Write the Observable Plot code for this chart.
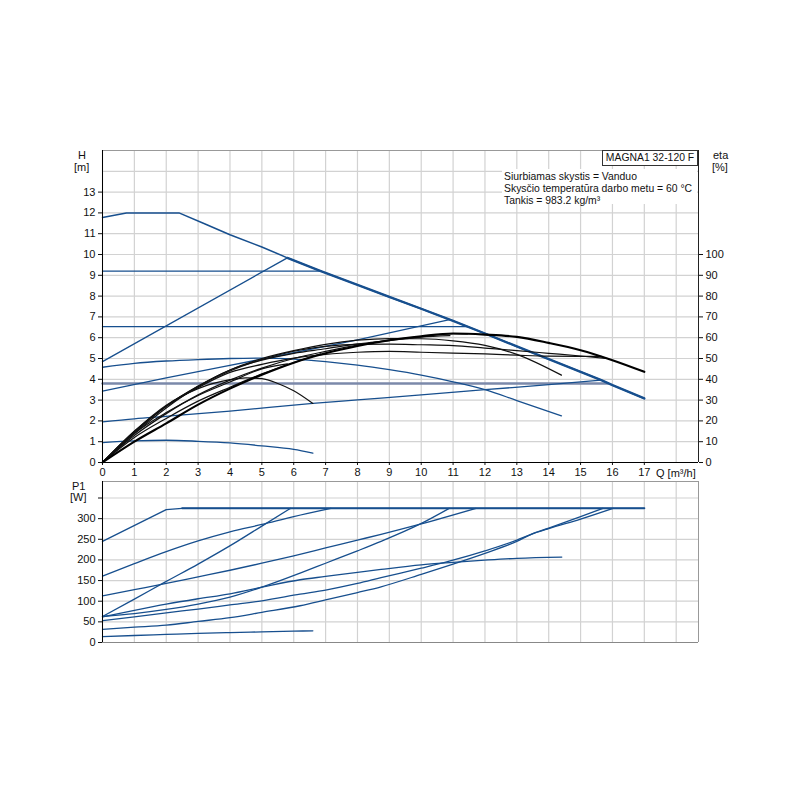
<!DOCTYPE html>
<html><head><meta charset="utf-8">
<script src="https://cdn.jsdelivr.net/npm/d3@7"></script>
<script src="https://cdn.jsdelivr.net/npm/@observablehq/plot@0.6"></script>
<style>
body{margin:0;background:#fff;font-family:"Liberation Sans",Arial,sans-serif;}
#wrap{position:relative;width:800px;height:800px;overflow:hidden;}
#wrap svg{position:absolute;left:0;}
.lbl{position:absolute;font-size:11px;color:#111;line-height:12px;white-space:nowrap;}
.sm{font-size:10.4px;}
</style></head><body><div id="wrap"></div>
<script>
// ---------- tick labels ----------
const qTicks = [0,1,2,3,4,5,6,7,8,9,10,11,12,13,14,15,16,17];
const qGrid = [0,1,2,3,4,5,6,7,8,9,10,11,12,13,14,15,16,17,18];
const hTicks = [0,1,2,3,4,5,6,7,8,9,10,11,12,13];
const hGrid = [0,1,2,3,4,5,6,7,8,9,10,11,12,13,14];
const etaTicks = [0,10,20,30,40,50,60,70,80,90,100];
const pTicks = [0,50,100,150,200,250,300,350];
const pLabelMax = 300;

// ---------- H curves (m) ----------
const maxQ = [0,0.75,2.4,3.2,4,5,5.8,6.85,8,9,10,11,12,13,14,15,15.65,16,17];
const maxH = [11.78,12,12,11.48,10.95,10.36,9.84,9.2,8.54,7.96,7.39,6.81,6.2,5.58,4.97,4.36,3.96,3.72,3.08];
const c92Q = [0,6.85], c92H = [9.2,9.2];
const c65Q = [0,11.45], c65H = [6.53,6.53];
const c38Q = [0,15.86], c38H = [3.8,3.8];
const pAQ = [0,5.8], pAH = [4.85,9.84];
const pBQ = [0,2,5,8,10.9], pBH = [3.43,4.07,4.97,5.9,6.87];
const pCQ = [0,1,2,4,6.6,8,10,12,14,15.65], pCH = [1.95,2.1,2.22,2.47,2.84,3.01,3.25,3.5,3.74,3.96];
const c46Q = [0,1,2,3,4,5,6,7,8,9,10,11,12,13,14.4];
const c46H = [4.58,4.77,4.88,4.95,5.0,5.02,4.97,4.85,4.68,4.46,4.2,3.88,3.5,2.98,2.24];
const c10Q = [0,1,2,3,4,5,6,6.6];
const c10H = [0.96,1.04,1.07,1.02,0.94,0.8,0.63,0.45];

// ---------- eta curves (%) ----------
const eMaxQ = [0,1,2,3,4,5,6,7,8,9,10,11,12,13,14,15,16,17];
const eMax  = [0,10,18.8,27.8,35.5,42.2,48,52.5,56,58.8,60.7,62,61.5,60.4,57.5,54,49.2,43.6];
const e92Q = [0,1,2,3,4,5,6,6.85];
const e92  = [0,12,21.2,29.5,36.2,42.6,48,52.2];
const eAQ = [0,1,2,3,4,5,5.8];
const eA  = [0,14,24,32.2,38.7,45,47.4];
const e65Q = [0,1,2,3,4,5,6,7,8,9,10,11,11.45];
const e65  = [0,13,23.5,32.5,39.6,45.4,50,53.4,56.4,58.9,60.5,62,61.8];
const eBQ = [0,1,2,3,4,5,6,7,8,9,10,10.9];
const eB  = [0,13.8,26.2,36.5,44.5,49.2,52.5,54.7,57,58.6,60.3,61];
const e46Q = [0,1,2,3,4,5,6,7,8,9,10,11,12,13,14.4];
const e46  = [0,15,27.2,36.8,44.5,50,53.8,56.8,58.8,59.6,59.5,58.5,56.3,52,42];
const e38Q = [0,1,2,3,4,5,6,7,8,9,10,11,12,13,14,15,15.86];
const e38  = [0,14.8,27,36.6,44,49.5,53.5,55.8,56.8,56.9,56.6,56.2,55,53.8,52.5,51.2,50];
const eCQ = [0,1,2,3,4,5,6,7,8,9,10,11,12,13,14,15,15.65];
const eC  = [0,14.2,27,36,43.3,47.2,50.2,52,53,53.4,53,52.6,52.2,51.6,51.1,51,51];
const e10Q = [0,1,2,3,4,4.5,5,5.5,6,6.6];
const e10  = [0,15,27.5,35.5,39.8,40.7,40.3,38,34.5,28.4];

// ---------- P1 curves (W) ----------
const pMaxQ = [0,2,2.5,17], pMax = [245,322,325,325];
const p92Q = [0,1,2,3,4,5,6,7.17], p92 = [161,191,220,246,268,286,305,325];
const pAQq = [0,1,2,3,4.23,5,5.9], pAP = [63,105,148,190,245,282,325];
const p65Q = [0,1,2,3,4,5,6,7,8,8.74,9.94,11.72];
const p65  = [113,128,143,159,175,192,210,229,248,262,286,325];
const pBQq = [0,1,2,3,4,5,6.2,7,8,8.74,9.94,10.88];
const pBP  = [63,70,80,93,110,134,168,192,222,245,286,325];
const p46Q = [0,1,2,3,4,5,6.2,7,8,8.74,10,11,12.1,13,14.41];
const p46  = [62,78,93,106,118,134,152,160,170,177,188,194,200,204,207];
const p38Q = [0,1,2,3,4,5,6.2,7,8,8.74,10,10.88,12,13,13.45,14,15,16.02];
const p38  = [53,62,72,81,91,101,117,127,143,157,180,197,222,248,262,276,299,325];
const pCQq = [0,1,2,3,4,5,6.2,7,8,8.74,10,11,12,13,13.45,14,15,15.7];
const pCP  = [32,37,42,51,60,73,89,103,121,135,165,190,216,245,262,277,305,325];
const p10Q = [0,1,2,3,4,5,6,6.6], p10 = [14,17,19.5,22,24,25.8,27.4,28.3];

// ---------- helpers ----------
const BLUE = "#174f8e";
const pts = (id, qs, vs) => qs.map((q,i)=>({id, q, v: vs[i]}));
const font = {fontFamily:'"Liberation Sans", Arial, sans-serif', fontSize:"11px", background:"transparent", color:"#111"};
const XD = [0,18.7];

const blueSeries = [
  pts("c92",c92Q,c92H), pts("c65",c65Q,c65H), pts("pA",pAQ,pAH),
  pts("pB",pBQ,pBH), pts("pC",pCQ,pCH), pts("c46",c46Q,c46H), pts("c10",c10Q,c10H)
].flat();
const maxData = pts("max",maxQ,maxH);
const etaThin = [
  pts("e92",e92Q,e92), pts("eA",eAQ,eA), pts("e65",e65Q,e65), pts("eB",eBQ,eB),
  pts("e46",e46Q,e46), pts("e38",e38Q,e38), pts("eC",eCQ,eC), pts("e10",e10Q,e10)
].flat().map(d=>({...d, v:d.v/10}));
const etaMaxData = pts("emax",eMaxQ,eMax).map(d=>({...d, v:d.v/10}));

const topChart = Plot.plot({
  width:800, height:478,
  marginLeft:102, marginRight:102, marginTop:150, marginBottom:16,
  style: font,
  x:{domain:XD}, y:{domain:[0,15]},
  marks:[
    Plot.gridX(qGrid,{stroke:"#d2d2d2", strokeOpacity:1, strokeWidth:1.2}),
    Plot.gridY(hGrid,{stroke:"#d2d2d2", strokeOpacity:1, strokeWidth:1.2}),
    Plot.ruleY([15],{stroke:"#999"}),
    Plot.ruleX([XD[1]],{stroke:"#222"}),
    Plot.axisY(hTicks,{anchor:"left", tickSize:4, tickPadding:3, label:null}),
    Plot.axisY(etaTicks.map(v=>v/10),{anchor:"right", tickSize:4, tickPadding:3, label:null, tickFormat:d=>String(Math.round(d*10))}),
    Plot.axisX(qTicks,{anchor:"bottom", tickSize:3, tickPadding:3, label:null}),
    Plot.line(pts("c38",c38Q,c38H),{x:"q",y:"v",stroke:"#7b89aa",strokeWidth:2.4}),
    Plot.line(blueSeries,{x:"q",y:"v",z:"id",stroke:BLUE,strokeWidth:1.3,curve:"monotone-x"}),
    Plot.line(maxData,{x:"q",y:"v",stroke:BLUE,strokeWidth:1.5}),
    Plot.line(maxData.filter(d=>d.q>=5.8),{x:"q",y:"v",stroke:BLUE,strokeWidth:2.3}),
    Plot.line(etaThin,{x:"q",y:"v",z:"id",stroke:"#111",strokeWidth:1.2,curve:"monotone-x"}),
    Plot.line(etaMaxData,{x:"q",y:"v",stroke:"#000",strokeWidth:2.1,curve:"monotone-x"}),
    Plot.ruleX([0],{stroke:"#000"}),
    Plot.ruleY([0],{stroke:"#000"})
  ]
});
topChart.style.top = "0px";

const pSeries = [
  pts("p92",p92Q,p92), pts("pA",pAQq,pAP), pts("p65",p65Q,p65), pts("pB",pBQq,pBP),
  pts("p46",p46Q,p46), pts("p38",p38Q,p38), pts("pC",pCQq,pCP), pts("p10",p10Q,p10)
].flat();

const bottomChart = Plot.plot({
  width:800, height:180,
  marginLeft:102, marginRight:102, marginTop:11, marginBottom:8,
  style: font,
  x:{domain:XD, axis:null}, y:{domain:[0,390]},
  marks:[
    Plot.gridX(qGrid,{stroke:"#d2d2d2", strokeOpacity:1, strokeWidth:1.2}),
    Plot.gridY(pTicks,{stroke:"#d2d2d2", strokeOpacity:1, strokeWidth:1.2}),
    Plot.ruleY([390],{stroke:"#999"}),
    Plot.ruleX([XD[1]],{stroke:"#999"}),
    Plot.ruleY([0],{stroke:"#888"}),
    Plot.axisY(pTicks,{anchor:"left", tickSize:4, tickPadding:3, label:null, tickFormat:d=> d<=pLabelMax ? String(d) : ""}),
    Plot.line(pSeries,{x:"q",y:"v",z:"id",stroke:BLUE,strokeWidth:1.3,curve:"monotone-x"}),
    Plot.line(pts("pmax",pMaxQ,pMax),{x:"q",y:"v",stroke:BLUE,strokeWidth:1.3}),
    Plot.line(pts("pmax",pMaxQ,pMax).slice(2),{x:"q",y:"v",stroke:BLUE,strokeWidth:2}),
    Plot.ruleX([0],{stroke:"#000"})
  ]
});
bottomChart.style.top = "470px";

const wrap = document.getElementById("wrap");
wrap.appendChild(topChart);
wrap.appendChild(bottomChart);

function lbl(text, left, topPx, extra, cls){
  const d = document.createElement("div");
  d.className = "lbl" + (cls ? " "+cls : "");
  d.textContent = text;
  d.style.left = left+"px"; d.style.top = topPx+"px";
  if (extra) Object.assign(d.style, extra);
  wrap.appendChild(d);
  return d;
}
lbl("H", 78, 149);
lbl("[m]", 74, 161);
lbl("eta", 713, 149);
lbl("[%]", 712, 161);
lbl("P1", 72, 480);
lbl("[W]", 70, 491);
lbl("Q [m³/h]", 656, 467);
lbl("", 502, 169, {width:"195px", height:"35px", background:"#fff"});
lbl("Siurbiamas skystis = Vanduo", 504, 171, null, "sm");
lbl("Skysčio temperatūra darbo metu = 60 °C", 504, 183, null, "sm");
lbl("Tankis = 983.2 kg/m³", 504, 195, null, "sm");
lbl("MAGNA1 32-120 F", 602, 150, {border:"1px solid #333", background:"#fff", width:"96px", height:"16px", lineHeight:"14px", textAlign:"center", boxSizing:"border-box", padding:"0"}, "sm");
</script>
</body></html>
